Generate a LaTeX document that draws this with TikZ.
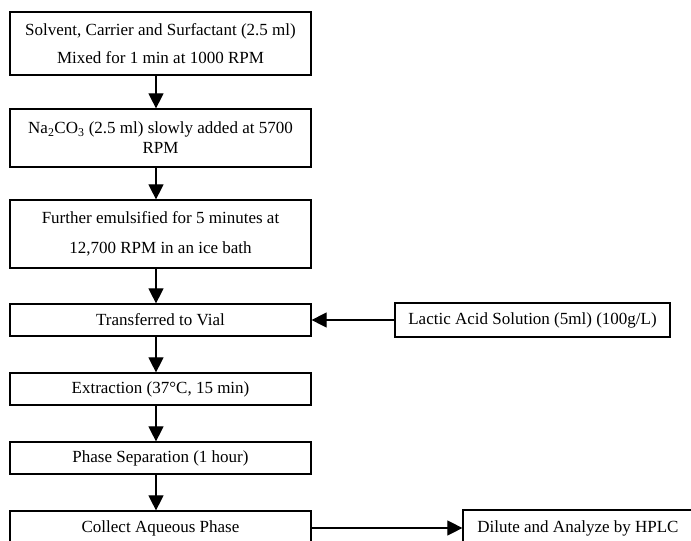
\documentclass[tikz,border=0pt]{standalone}
\usepackage{fontspec}
\setmainfont{Liberation Serif}
\usetikzlibrary{arrows.meta}
\begin{document}
\begin{tikzpicture}[x=1pt,y=-1pt,
  box/.style={draw, line width=1.2pt, inner sep=0pt, align=center, font=\fontsize{17}{20}\selectfont},
  flow/.style={line width=1.1pt, -{Triangle[length=15pt,width=15pt]}}]
\useasboundingbox (0,0) rectangle (691,541);
\clip (0,0) rectangle (691,541);
\coordinate (spine) at (156,0);
\node[box, minimum width=301pt, minimum height=63pt, font=\fontsize{17}{28}\selectfont] (s1) at (160.5,43.5)
  {Solvent, Carrier and Surfactant (2.5 ml)\\Mixed for 1 min at 1000 RPM};
\node[box, minimum width=301pt, minimum height=58pt, font=\fontsize{17}{20}\selectfont] (s2) at (160.5,138)
  {Na\textsubscript{2}CO\textsubscript{3} (2.5 ml) slowly added at 5700\\RPM};
\node[box, minimum width=301pt, minimum height=68pt, font=\fontsize{17}{30}\selectfont] (s3) at (160.5,234)
  {Further emulsified for 5 minutes at\\12,700 RPM in an ice bath};
\node[box, minimum width=301pt, minimum height=32pt] (vial) at (160.5,320) {Transferred to Vial};
\node[box, minimum width=301pt, minimum height=32pt] (ext) at (160.5,389) {Extraction (37°C, 15 min)};
\node[box, minimum width=301pt, minimum height=32pt] (phase) at (160.5,458) {Phase Separation (1 hour)};
\node[box, minimum width=301pt, minimum height=34pt] (col) at (160.5,528) {Collect Aqueous Phase};
\node[box, minimum width=275pt, minimum height=34pt] (lac) at (532.5,320) {Lactic Acid Solution (5ml) (100g/L)};
\node[box, minimum width=230pt, minimum height=36pt] (dil) at (578,528) {Dilute and Analyze by HPLC};
\draw[flow] (s1.south -| spine) -- (s2.north -| spine);
\draw[flow] (s2.south -| spine) -- (s3.north -| spine);
\draw[flow] (s3.south -| spine) -- (vial.north -| spine);
\draw[flow] (vial.south -| spine) -- (ext.north -| spine);
\draw[flow] (ext.south -| spine) -- (phase.north -| spine);
\draw[flow] (phase.south -| spine) -- (col.north -| spine);
\draw[flow] (lac.west) -- (vial.east);
\draw[flow] (col.east) -- (dil.west);
\end{tikzpicture}
\end{document}
